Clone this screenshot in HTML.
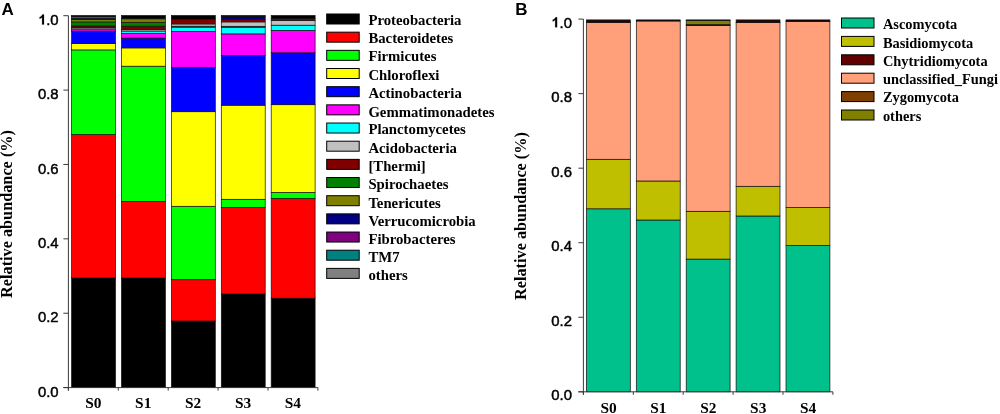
<!DOCTYPE html>
<html><head><meta charset="utf-8"><style>
html,body{margin:0;padding:0;background:#fff;}
body{width:1000px;height:414px;overflow:hidden;}
svg{display:block;will-change:transform;filter:blur(0.35px);}
.tk{font-family:"Liberation Sans",sans-serif;font-weight:normal;font-size:14.9px;fill:#000;stroke:#000;stroke-width:0.45px;}
.one{fill-opacity:0;stroke-opacity:0;}
.pl{font-family:"Liberation Sans",sans-serif;font-weight:bold;font-size:17px;fill:#000;}
.xl{font-family:"Liberation Serif",serif;font-weight:bold;font-size:15.4px;fill:#000;}
.yl{font-family:"Liberation Serif",serif;font-weight:bold;font-size:16.25px;fill:#000;}
.lg{font-family:"Liberation Serif",serif;font-weight:bold;font-size:14.75px;fill:#000;}
.lgb{font-family:"Liberation Serif",serif;font-weight:bold;font-size:14.4px;fill:#000;}
</style></head><body>
<svg width="1000" height="414" viewBox="0 0 1000 414">
<rect x="0" y="0" width="1000" height="414" fill="#fff"/>
<rect x="71.60" y="278.00" width="43.90" height="109.60" fill="#000000" stroke="#111" stroke-width="0.7"/>
<rect x="71.60" y="134.50" width="43.90" height="143.50" fill="#FF0000" stroke="#111" stroke-width="0.7"/>
<rect x="71.60" y="49.90" width="43.90" height="84.60" fill="#00FF00" stroke="#111" stroke-width="0.7"/>
<rect x="71.60" y="43.60" width="43.90" height="6.30" fill="#FFFF00" stroke="#111" stroke-width="0.7"/>
<rect x="71.60" y="31.10" width="43.90" height="12.50" fill="#0000FF" stroke="#111" stroke-width="0.7"/>
<rect x="71.60" y="28.90" width="43.90" height="2.20" fill="#FF00FF" stroke="#111" stroke-width="0.7"/>
<rect x="71.60" y="27.70" width="43.90" height="1.20" fill="#C0C0C0" stroke="#111" stroke-width="0.7"/>
<rect x="71.60" y="26.00" width="43.90" height="1.70" fill="#800000" stroke="#111" stroke-width="0.7"/>
<rect x="71.60" y="21.90" width="43.90" height="4.10" fill="#008000" stroke="#111" stroke-width="0.7"/>
<rect x="71.60" y="19.50" width="43.90" height="2.40" fill="#808000" stroke="#111" stroke-width="0.7"/>
<rect x="71.60" y="18.20" width="43.90" height="1.30" fill="#000080" stroke="#111" stroke-width="0.7"/>
<rect x="71.60" y="16.60" width="43.90" height="1.60" fill="#008080" stroke="#111" stroke-width="0.7"/>
<rect x="71.60" y="15.50" width="43.90" height="1.10" fill="#000000" stroke="#111" stroke-width="0.7"/>
<rect x="121.50" y="278.00" width="43.90" height="109.60" fill="#000000" stroke="#111" stroke-width="0.7"/>
<rect x="121.50" y="201.40" width="43.90" height="76.60" fill="#FF0000" stroke="#111" stroke-width="0.7"/>
<rect x="121.50" y="66.20" width="43.90" height="135.20" fill="#00FF00" stroke="#111" stroke-width="0.7"/>
<rect x="121.50" y="47.90" width="43.90" height="18.30" fill="#FFFF00" stroke="#111" stroke-width="0.7"/>
<rect x="121.50" y="38.10" width="43.90" height="9.80" fill="#0000FF" stroke="#111" stroke-width="0.7"/>
<rect x="121.50" y="33.50" width="43.90" height="4.60" fill="#FF00FF" stroke="#111" stroke-width="0.7"/>
<rect x="121.50" y="31.00" width="43.90" height="2.50" fill="#00FFFF" stroke="#111" stroke-width="0.7"/>
<rect x="121.50" y="29.40" width="43.90" height="1.60" fill="#C0C0C0" stroke="#111" stroke-width="0.7"/>
<rect x="121.50" y="26.20" width="43.90" height="3.20" fill="#800000" stroke="#111" stroke-width="0.7"/>
<rect x="121.50" y="22.30" width="43.90" height="3.90" fill="#008000" stroke="#111" stroke-width="0.7"/>
<rect x="121.50" y="18.80" width="43.90" height="3.50" fill="#808000" stroke="#111" stroke-width="0.7"/>
<rect x="121.50" y="15.50" width="43.90" height="3.30" fill="#000000" stroke="#111" stroke-width="0.7"/>
<rect x="171.40" y="321.00" width="43.90" height="66.60" fill="#000000" stroke="#111" stroke-width="0.7"/>
<rect x="171.40" y="279.70" width="43.90" height="41.30" fill="#FF0000" stroke="#111" stroke-width="0.7"/>
<rect x="171.40" y="206.30" width="43.90" height="73.40" fill="#00FF00" stroke="#111" stroke-width="0.7"/>
<rect x="171.40" y="111.70" width="43.90" height="94.60" fill="#FFFF00" stroke="#111" stroke-width="0.7"/>
<rect x="171.40" y="67.30" width="43.90" height="44.40" fill="#0000FF" stroke="#111" stroke-width="0.7"/>
<rect x="171.40" y="31.50" width="43.90" height="35.80" fill="#FF00FF" stroke="#111" stroke-width="0.7"/>
<rect x="171.40" y="27.10" width="43.90" height="4.40" fill="#00FFFF" stroke="#111" stroke-width="0.7"/>
<rect x="171.40" y="26.20" width="43.90" height="0.90" fill="#008080" stroke="#111" stroke-width="0.7"/>
<rect x="171.40" y="24.00" width="43.90" height="2.20" fill="#C0C0C0" stroke="#111" stroke-width="0.7"/>
<rect x="171.40" y="19.20" width="43.90" height="4.70" fill="#800000" stroke="#111" stroke-width="0.7"/>
<rect x="171.40" y="15.50" width="43.90" height="3.70" fill="#000000" stroke="#111" stroke-width="0.7"/>
<rect x="221.30" y="294.00" width="43.90" height="93.60" fill="#000000" stroke="#111" stroke-width="0.7"/>
<rect x="221.30" y="207.50" width="43.90" height="86.50" fill="#FF0000" stroke="#111" stroke-width="0.7"/>
<rect x="221.30" y="199.30" width="43.90" height="8.20" fill="#00FF00" stroke="#111" stroke-width="0.7"/>
<rect x="221.30" y="105.20" width="43.90" height="94.10" fill="#FFFF00" stroke="#111" stroke-width="0.7"/>
<rect x="221.30" y="55.50" width="43.90" height="49.70" fill="#0000FF" stroke="#111" stroke-width="0.7"/>
<rect x="221.30" y="33.90" width="43.90" height="21.60" fill="#FF00FF" stroke="#111" stroke-width="0.7"/>
<rect x="221.30" y="27.20" width="43.90" height="6.70" fill="#00FFFF" stroke="#111" stroke-width="0.7"/>
<rect x="221.30" y="26.30" width="43.90" height="0.90" fill="#008080" stroke="#111" stroke-width="0.7"/>
<rect x="221.30" y="21.90" width="43.90" height="4.40" fill="#C0C0C0" stroke="#111" stroke-width="0.7"/>
<rect x="221.30" y="19.30" width="43.90" height="2.60" fill="#800000" stroke="#111" stroke-width="0.7"/>
<rect x="221.30" y="16.90" width="43.90" height="2.40" fill="#000080" stroke="#111" stroke-width="0.7"/>
<rect x="221.30" y="15.50" width="43.90" height="1.40" fill="#000000" stroke="#111" stroke-width="0.7"/>
<rect x="271.20" y="298.20" width="43.90" height="89.40" fill="#000000" stroke="#111" stroke-width="0.7"/>
<rect x="271.20" y="198.40" width="43.90" height="99.80" fill="#FF0000" stroke="#111" stroke-width="0.7"/>
<rect x="271.20" y="192.40" width="43.90" height="6.00" fill="#00FF00" stroke="#111" stroke-width="0.7"/>
<rect x="271.20" y="104.70" width="43.90" height="87.70" fill="#FFFF00" stroke="#111" stroke-width="0.7"/>
<rect x="271.20" y="52.80" width="43.90" height="51.90" fill="#0000FF" stroke="#111" stroke-width="0.7"/>
<rect x="271.20" y="30.40" width="43.90" height="22.40" fill="#FF00FF" stroke="#111" stroke-width="0.7"/>
<rect x="271.20" y="25.20" width="43.90" height="5.20" fill="#00FFFF" stroke="#111" stroke-width="0.7"/>
<rect x="271.20" y="20.40" width="43.90" height="4.80" fill="#C0C0C0" stroke="#111" stroke-width="0.7"/>
<rect x="271.20" y="18.40" width="43.90" height="2.00" fill="#800000" stroke="#111" stroke-width="0.7"/>
<rect x="271.20" y="15.50" width="43.90" height="2.90" fill="#000000" stroke="#111" stroke-width="0.7"/>
<line x1="68.40" y1="15.70" x2="68.40" y2="390.60" stroke="#3a3a3a" stroke-width="1"/>
<line x1="63.40" y1="387.60" x2="317.90" y2="387.60" stroke="#3a3a3a" stroke-width="1"/>
<line x1="63.40" y1="387.60" x2="68.40" y2="387.60" stroke="#3a3a3a" stroke-width="1"/>
<text x="58.60" y="396.70" class="tk" text-anchor="end" >0.0</text>
<line x1="63.40" y1="313.22" x2="68.40" y2="313.22" stroke="#3a3a3a" stroke-width="1"/>
<text x="58.60" y="322.32" class="tk" text-anchor="end" >0.2</text>
<line x1="63.40" y1="238.84" x2="68.40" y2="238.84" stroke="#3a3a3a" stroke-width="1"/>
<text x="58.60" y="247.94" class="tk" text-anchor="end" >0.4</text>
<line x1="63.40" y1="164.46" x2="68.40" y2="164.46" stroke="#3a3a3a" stroke-width="1"/>
<text x="58.60" y="173.56" class="tk" text-anchor="end" >0.6</text>
<line x1="63.40" y1="90.08" x2="68.40" y2="90.08" stroke="#3a3a3a" stroke-width="1"/>
<text x="58.60" y="99.18" class="tk" text-anchor="end" >0.8</text>
<line x1="63.40" y1="15.70" x2="68.40" y2="15.70" stroke="#3a3a3a" stroke-width="1"/>
<text x="58.60" y="24.50" class="tk" text-anchor="end" ><tspan class="one">1</tspan>.0</text>
<path d="M830 0H549V1059Q395 915 186 846V1101Q296 1137 425 1237Q554 1337 602 1472H830Z" transform="translate(38.36 24.60) scale(0.006793 -0.006793)" fill="#000" stroke="#000" stroke-width="0.2" vector-effect="non-scaling-stroke"/>
<line x1="68.40" y1="387.60" x2="68.40" y2="390.60" stroke="#3a3a3a" stroke-width="1"/>
<line x1="118.30" y1="387.60" x2="118.30" y2="390.60" stroke="#3a3a3a" stroke-width="1"/>
<line x1="168.20" y1="387.60" x2="168.20" y2="390.60" stroke="#3a3a3a" stroke-width="1"/>
<line x1="218.10" y1="387.60" x2="218.10" y2="390.60" stroke="#3a3a3a" stroke-width="1"/>
<line x1="268.00" y1="387.60" x2="268.00" y2="390.60" stroke="#3a3a3a" stroke-width="1"/>
<line x1="317.90" y1="387.60" x2="317.90" y2="390.60" stroke="#3a3a3a" stroke-width="1"/>
<text x="93.35" y="407.90" class="xl" text-anchor="middle" >S0</text>
<text x="143.25" y="407.90" class="xl" text-anchor="middle" >S1</text>
<text x="193.15" y="407.90" class="xl" text-anchor="middle" >S2</text>
<text x="243.05" y="407.90" class="xl" text-anchor="middle" >S3</text>
<text x="292.95" y="407.90" class="xl" text-anchor="middle" >S4</text>
<text x="12.10" y="214.00" class="yl" text-anchor="middle" transform="rotate(-90 12.1 214)">Relative abundance (%)</text>
<text x="1.60" y="14.90" class="pl" text-anchor="start" >A</text>
<rect x="326.70" y="14.00" width="32.50" height="10.00" fill="#000000" stroke="#000" stroke-width="1.0"/>
<text x="368.40" y="25.10" class="lg" text-anchor="start" >Proteobacteria</text>
<rect x="326.70" y="32.17" width="32.50" height="10.00" fill="#FF0000" stroke="#000" stroke-width="1.0"/>
<text x="368.40" y="43.10" class="lg" text-anchor="start" >Bacteroidetes</text>
<rect x="326.70" y="50.34" width="32.50" height="10.00" fill="#00FF00" stroke="#000" stroke-width="1.0"/>
<text x="368.40" y="61.40" class="lg" text-anchor="start" >Firmicutes</text>
<rect x="326.70" y="68.51" width="32.50" height="10.00" fill="#FFFF00" stroke="#000" stroke-width="1.0"/>
<text x="368.40" y="80.00" class="lg" text-anchor="start" >Chloroflexi</text>
<rect x="326.70" y="86.68" width="32.50" height="10.00" fill="#0000FF" stroke="#000" stroke-width="1.0"/>
<text x="368.40" y="97.80" class="lg" text-anchor="start" >Actinobacteria</text>
<rect x="326.70" y="104.85" width="32.50" height="10.00" fill="#FF00FF" stroke="#000" stroke-width="1.0"/>
<text x="368.40" y="116.90" class="lg" text-anchor="start" >Gemmatimonadetes</text>
<rect x="326.70" y="123.02" width="32.50" height="10.00" fill="#00FFFF" stroke="#000" stroke-width="1.0"/>
<text x="368.40" y="134.40" class="lg" text-anchor="start" >Planctomycetes</text>
<rect x="326.70" y="141.19" width="32.50" height="10.00" fill="#C0C0C0" stroke="#000" stroke-width="1.0"/>
<text x="368.40" y="152.60" class="lg" text-anchor="start" >Acidobacteria</text>
<rect x="326.70" y="159.36" width="32.50" height="10.00" fill="#800000" stroke="#000" stroke-width="1.0"/>
<text x="368.40" y="170.70" class="lg" text-anchor="start" >[Thermi]</text>
<rect x="326.70" y="177.53" width="32.50" height="10.00" fill="#008000" stroke="#000" stroke-width="1.0"/>
<text x="368.40" y="189.30" class="lg" text-anchor="start" >Spirochaetes</text>
<rect x="326.70" y="195.70" width="32.50" height="10.00" fill="#808000" stroke="#000" stroke-width="1.0"/>
<text x="368.40" y="207.50" class="lg" text-anchor="start" >Tenericutes</text>
<rect x="326.70" y="213.87" width="32.50" height="10.00" fill="#000080" stroke="#000" stroke-width="1.0"/>
<text x="368.40" y="225.90" class="lg" text-anchor="start" >Verrucomicrobia</text>
<rect x="326.70" y="232.04" width="32.50" height="10.00" fill="#800080" stroke="#000" stroke-width="1.0"/>
<text x="368.40" y="244.00" class="lg" text-anchor="start" >Fibrobacteres</text>
<rect x="326.70" y="250.21" width="32.50" height="10.00" fill="#008080" stroke="#000" stroke-width="1.0"/>
<text x="368.40" y="261.90" class="lg" text-anchor="start" >TM7</text>
<rect x="326.70" y="268.38" width="32.50" height="10.00" fill="#808080" stroke="#000" stroke-width="1.0"/>
<text x="368.40" y="280.30" class="lg" text-anchor="start" >others</text>
<rect x="586.40" y="208.80" width="43.90" height="183.00" fill="#00C08C" stroke="#111" stroke-width="0.7"/>
<rect x="586.40" y="159.30" width="43.90" height="49.50" fill="#BFBF00" stroke="#111" stroke-width="0.7"/>
<rect x="586.40" y="22.40" width="43.90" height="136.90" fill="#FFA07A" stroke="#111" stroke-width="0.7"/>
<rect x="586.40" y="19.90" width="43.90" height="2.50" fill="#2a0400" stroke="#111" stroke-width="0.7"/>
<rect x="636.30" y="220.00" width="43.90" height="171.80" fill="#00C08C" stroke="#111" stroke-width="0.7"/>
<rect x="636.30" y="181.00" width="43.90" height="39.00" fill="#BFBF00" stroke="#111" stroke-width="0.7"/>
<rect x="636.30" y="21.00" width="43.90" height="160.00" fill="#FFA07A" stroke="#111" stroke-width="0.7"/>
<rect x="636.30" y="19.90" width="43.90" height="1.10" fill="#150000" stroke="#111" stroke-width="0.7"/>
<rect x="686.20" y="259.10" width="43.90" height="132.70" fill="#00C08C" stroke="#111" stroke-width="0.7"/>
<rect x="686.20" y="211.30" width="43.90" height="47.80" fill="#BFBF00" stroke="#111" stroke-width="0.7"/>
<rect x="686.20" y="25.50" width="43.90" height="185.80" fill="#FFA07A" stroke="#111" stroke-width="0.7"/>
<rect x="686.20" y="24.60" width="43.90" height="0.90" fill="#2a0400" stroke="#111" stroke-width="0.7"/>
<rect x="686.20" y="20.50" width="43.90" height="4.10" fill="#808000" stroke="#111" stroke-width="0.7"/>
<rect x="686.20" y="19.90" width="43.90" height="0.60" fill="#150000" stroke="#111" stroke-width="0.7"/>
<rect x="736.10" y="216.00" width="43.90" height="175.80" fill="#00C08C" stroke="#111" stroke-width="0.7"/>
<rect x="736.10" y="186.30" width="43.90" height="29.70" fill="#BFBF00" stroke="#111" stroke-width="0.7"/>
<rect x="736.10" y="22.60" width="43.90" height="163.70" fill="#FFA07A" stroke="#111" stroke-width="0.7"/>
<rect x="736.10" y="19.90" width="43.90" height="2.70" fill="#2a0400" stroke="#111" stroke-width="0.7"/>
<rect x="786.00" y="245.60" width="43.90" height="146.20" fill="#00C08C" stroke="#111" stroke-width="0.7"/>
<rect x="786.00" y="207.50" width="43.90" height="38.10" fill="#BFBF00" stroke="#111" stroke-width="0.7"/>
<rect x="786.00" y="21.60" width="43.90" height="185.90" fill="#FFA07A" stroke="#111" stroke-width="0.7"/>
<rect x="786.00" y="19.90" width="43.90" height="1.70" fill="#150000" stroke="#111" stroke-width="0.7"/>
<line x1="583.40" y1="19.10" x2="583.40" y2="394.80" stroke="#3a3a3a" stroke-width="1"/>
<line x1="578.40" y1="391.80" x2="832.90" y2="391.80" stroke="#3a3a3a" stroke-width="1"/>
<line x1="578.40" y1="391.80" x2="583.40" y2="391.80" stroke="#3a3a3a" stroke-width="1"/>
<text x="572.00" y="400.20" class="tk" text-anchor="end" >0.0</text>
<line x1="578.40" y1="317.26" x2="583.40" y2="317.26" stroke="#3a3a3a" stroke-width="1"/>
<text x="572.00" y="325.66" class="tk" text-anchor="end" >0.2</text>
<line x1="578.40" y1="242.72" x2="583.40" y2="242.72" stroke="#3a3a3a" stroke-width="1"/>
<text x="572.00" y="251.12" class="tk" text-anchor="end" >0.4</text>
<line x1="578.40" y1="168.18" x2="583.40" y2="168.18" stroke="#3a3a3a" stroke-width="1"/>
<text x="572.00" y="176.58" class="tk" text-anchor="end" >0.6</text>
<line x1="578.40" y1="93.64" x2="583.40" y2="93.64" stroke="#3a3a3a" stroke-width="1"/>
<text x="572.00" y="102.04" class="tk" text-anchor="end" >0.8</text>
<line x1="578.40" y1="19.10" x2="583.40" y2="19.10" stroke="#3a3a3a" stroke-width="1"/>
<text x="572.00" y="27.50" class="tk" text-anchor="end" ><tspan class="one">1</tspan>.0</text>
<path d="M830 0H549V1059Q395 915 186 846V1101Q296 1137 425 1237Q554 1337 602 1472H830Z" transform="translate(551.46 27.30) scale(0.006793 -0.006793)" fill="#000" stroke="#000" stroke-width="0.2" vector-effect="non-scaling-stroke"/>
<line x1="583.40" y1="391.80" x2="583.40" y2="394.80" stroke="#3a3a3a" stroke-width="1"/>
<line x1="633.30" y1="391.80" x2="633.30" y2="394.80" stroke="#3a3a3a" stroke-width="1"/>
<line x1="683.20" y1="391.80" x2="683.20" y2="394.80" stroke="#3a3a3a" stroke-width="1"/>
<line x1="733.10" y1="391.80" x2="733.10" y2="394.80" stroke="#3a3a3a" stroke-width="1"/>
<line x1="783.00" y1="391.80" x2="783.00" y2="394.80" stroke="#3a3a3a" stroke-width="1"/>
<line x1="832.90" y1="391.80" x2="832.90" y2="394.80" stroke="#3a3a3a" stroke-width="1"/>
<text x="608.55" y="412.80" class="xl" text-anchor="middle" >S0</text>
<text x="658.45" y="412.80" class="xl" text-anchor="middle" >S1</text>
<text x="708.35" y="412.80" class="xl" text-anchor="middle" >S2</text>
<text x="758.25" y="412.80" class="xl" text-anchor="middle" >S3</text>
<text x="808.15" y="412.80" class="xl" text-anchor="middle" >S4</text>
<text x="526.10" y="216.00" class="yl" text-anchor="middle" transform="rotate(-90 526.1 216)">Relative abundance (%)</text>
<text x="515.30" y="15.00" class="pl" text-anchor="start" >B</text>
<rect x="841.50" y="18.00" width="32.50" height="10.00" fill="#00C08C" stroke="#000" stroke-width="1.0"/>
<text x="882.90" y="29.30" class="lgb" text-anchor="start" >Ascomycota</text>
<rect x="841.50" y="36.40" width="32.50" height="10.00" fill="#BFBF00" stroke="#000" stroke-width="1.0"/>
<text x="882.90" y="47.58" class="lgb" text-anchor="start" >Basidiomycota</text>
<rect x="841.50" y="54.80" width="32.50" height="10.00" fill="#600000" stroke="#000" stroke-width="1.0"/>
<text x="882.90" y="65.86" class="lgb" text-anchor="start" >Chytridiomycota</text>
<rect x="841.50" y="73.20" width="32.50" height="10.00" fill="#FFA07A" stroke="#000" stroke-width="1.0"/>
<text x="882.90" y="84.14" class="lgb" text-anchor="start" >unclassified_Fungi</text>
<rect x="841.50" y="91.60" width="32.50" height="10.00" fill="#7F3F00" stroke="#000" stroke-width="1.0"/>
<text x="882.90" y="102.42" class="lgb" text-anchor="start" >Zygomycota</text>
<rect x="841.50" y="110.00" width="32.50" height="10.00" fill="#808000" stroke="#000" stroke-width="1.0"/>
<text x="882.90" y="120.70" class="lgb" text-anchor="start" >others</text>
</svg>
</body></html>
